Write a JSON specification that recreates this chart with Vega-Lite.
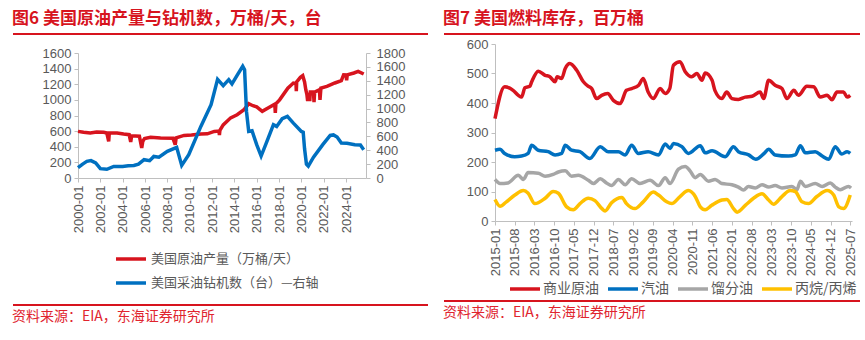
{
  "$schema": "https://vega.github.io/schema/vega-lite/v6.json",
  "padding": {"left": 10, "top": 10, "right": 5, "bottom": 0},
  "background": "white",
  "config": {
    "font": "Liberation Sans, Noto Sans CJK SC",
    "view": {"stroke": null},
    "axis": {"labelColor": "#595959", "labelFontSize": 13, "labelFont": "Liberation Sans", "domainColor": "#BFBFBF", "tickColor": "#BFBFBF", "tickSize": 4, "grid": false, "title": null, "labelPadding": 3, "format": "d"},
    "axisX": {"format": "%Y-%m"},
    "legend": {"title": null, "labelFont": "Noto Sans CJK SC", "labelFontSize": 13, "labelColor": "#595959", "labelLimit": 300, "symbolType": "stroke", "symbolSize": 900, "symbolStrokeWidth": 3.5, "labelOffset": 3}
  },
  "resolve": {"scale": {"color": "independent"}, "legend": {"color": "independent"}},
  "datasets": {
    "prod": [
      {"date": "2000-01-01", "value": 597}, {"date": "2000-07-01", "value": 585}, {"date": "2001-02-05", "value": 576}, {"date": "2001-09-01", "value": 588},
      {"date": "2002-04-20", "value": 585}, {"date": "2002-08-01", "value": 576}, {"date": "2002-10-01", "value": 468}, {"date": "2002-10-20", "value": 575},
      {"date": "2003-07-01", "value": 576}, {"date": "2004-02-01", "value": 562}, {"date": "2004-08-01", "value": 555}, {"date": "2004-09-20", "value": 461},
      {"date": "2004-10-20", "value": 540}, {"date": "2005-07-01", "value": 535}, {"date": "2005-09-15", "value": 384}, {"date": "2005-10-20", "value": 470},
      {"date": "2005-12-15", "value": 505}, {"date": "2006-07-01", "value": 520}, {"date": "2007-05-25", "value": 512}, {"date": "2008-07-01", "value": 510},
      {"date": "2008-09-15", "value": 426}, {"date": "2008-10-15", "value": 515}, {"date": "2009-07-01", "value": 545}, {"date": "2010-03-01", "value": 550},
      {"date": "2011-01-01", "value": 563}, {"date": "2011-08-01", "value": 565}, {"date": "2012-03-15", "value": 596}, {"date": "2012-08-15", "value": 600},
      {"date": "2012-08-30", "value": 550}, {"date": "2012-09-15", "value": 610}, {"date": "2013-01-01", "value": 680}, {"date": "2013-09-01", "value": 770},
      {"date": "2014-04-01", "value": 810}, {"date": "2014-11-01", "value": 870}, {"date": "2015-04-15", "value": 950}, {"date": "2015-09-01", "value": 925},
      {"date": "2016-01-01", "value": 910}, {"date": "2016-07-01", "value": 853}, {"date": "2017-01-20", "value": 900}, {"date": "2017-08-15", "value": 945},
      {"date": "2017-09-01", "value": 832}, {"date": "2017-09-20", "value": 950}, {"date": "2018-01-20", "value": 1000}, {"date": "2018-10-15", "value": 1150},
      {"date": "2019-04-15", "value": 1215}, {"date": "2019-07-10", "value": 1210}, {"date": "2019-07-20", "value": 1110}, {"date": "2019-08-01", "value": 1230},
      {"date": "2019-11-30", "value": 1288}, {"date": "2020-02-15", "value": 1310}, {"date": "2020-04-15", "value": 1230}, {"date": "2020-05-25", "value": 1130},
      {"date": "2020-07-01", "value": 1066}, {"date": "2020-07-25", "value": 985}, {"date": "2020-08-15", "value": 1090}, {"date": "2020-10-01", "value": 985},
      {"date": "2020-10-20", "value": 1100}, {"date": "2021-02-01", "value": 1100}, {"date": "2021-02-18", "value": 970}, {"date": "2021-03-10", "value": 1100},
      {"date": "2021-08-15", "value": 1130}, {"date": "2021-09-01", "value": 1000}, {"date": "2021-10-01", "value": 1150}, {"date": "2022-04-15", "value": 1173},
      {"date": "2023-01-01", "value": 1216}, {"date": "2023-08-01", "value": 1245}, {"date": "2023-10-15", "value": 1322}, {"date": "2024-01-01", "value": 1320},
      {"date": "2024-01-20", "value": 1250}, {"date": "2024-02-10", "value": 1320}, {"date": "2024-09-15", "value": 1344}, {"date": "2025-02-01", "value": 1365},
      {"date": "2025-08-01", "value": 1331}
    ],
    "rig": [
      {"date": "2000-01-01", "value": 150}, {"date": "2000-06-01", "value": 200}, {"date": "2000-10-15", "value": 239}, {"date": "2001-03-01", "value": 250},
      {"date": "2001-08-01", "value": 216}, {"date": "2002-01-01", "value": 134}, {"date": "2002-08-01", "value": 125}, {"date": "2003-03-15", "value": 167},
      {"date": "2004-01-01", "value": 165}, {"date": "2004-07-01", "value": 175}, {"date": "2005-01-01", "value": 181}, {"date": "2005-06-01", "value": 200},
      {"date": "2005-12-01", "value": 264}, {"date": "2006-06-01", "value": 250}, {"date": "2006-10-15", "value": 311}, {"date": "2007-04-01", "value": 300},
      {"date": "2008-01-01", "value": 383}, {"date": "2008-11-01", "value": 441}, {"date": "2009-04-15", "value": 181}, {"date": "2009-12-01", "value": 336},
      {"date": "2011-01-01", "value": 743}, {"date": "2011-12-01", "value": 1056}, {"date": "2012-07-01", "value": 1420}, {"date": "2013-01-01", "value": 1330},
      {"date": "2013-07-01", "value": 1416}, {"date": "2013-10-15", "value": 1354}, {"date": "2014-04-15", "value": 1488}, {"date": "2014-10-01", "value": 1609},
      {"date": "2014-12-01", "value": 1560}, {"date": "2015-02-01", "value": 959}, {"date": "2015-04-15", "value": 671}, {"date": "2015-08-01", "value": 681},
      {"date": "2016-01-01", "value": 480}, {"date": "2016-05-25", "value": 316}, {"date": "2016-12-01", "value": 527}, {"date": "2017-07-01", "value": 768},
      {"date": "2017-10-15", "value": 743}, {"date": "2018-04-15", "value": 854}, {"date": "2018-10-01", "value": 888}, {"date": "2019-04-15", "value": 790},
      {"date": "2020-01-01", "value": 670}, {"date": "2020-03-01", "value": 660}, {"date": "2020-04-15", "value": 420}, {"date": "2020-06-15", "value": 200},
      {"date": "2020-08-15", "value": 172}, {"date": "2021-02-01", "value": 300}, {"date": "2021-12-01", "value": 480}, {"date": "2022-08-01", "value": 613},
      {"date": "2022-11-15", "value": 620}, {"date": "2023-03-15", "value": 590}, {"date": "2023-08-01", "value": 504}, {"date": "2024-02-01", "value": 500},
      {"date": "2024-10-15", "value": 480}, {"date": "2025-04-15", "value": 475}, {"date": "2025-08-01", "value": 408}
    ],
    "stocks": [
      {"s": "商业原油", "date": "2015-01-01", "v": 347}, {"s": "商业原油", "date": "2015-04-15", "v": 455}, {"s": "商业原油", "date": "2015-07-15", "v": 443},
      {"s": "商业原油", "date": "2015-09-10", "v": 426}, {"s": "商业原油", "date": "2015-10-15", "v": 420}, {"s": "商业原油", "date": "2015-11-20", "v": 452},
      {"s": "商业原油", "date": "2016-01-12", "v": 457}, {"s": "商业原油", "date": "2016-02-01", "v": 472}, {"s": "商业原油", "date": "2016-04-12", "v": 508},
      {"s": "商业原油", "date": "2016-06-25", "v": 494}, {"s": "商业原油", "date": "2016-08-15", "v": 489}, {"s": "商业原油", "date": "2016-10-10", "v": 472},
      {"s": "商业原油", "date": "2016-11-01", "v": 489}, {"s": "商业原油", "date": "2016-12-20", "v": 483}, {"s": "商业原油", "date": "2017-01-28", "v": 517},
      {"s": "商业原油", "date": "2017-03-18", "v": 534}, {"s": "商业原油", "date": "2017-06-01", "v": 511}, {"s": "商业原油", "date": "2017-08-12", "v": 472},
      {"s": "商业原油", "date": "2017-10-01", "v": 457}, {"s": "商业原油", "date": "2017-11-10", "v": 449}, {"s": "商业原油", "date": "2018-01-01", "v": 415},
      {"s": "商业原油", "date": "2018-02-25", "v": 426}, {"s": "商业原油", "date": "2018-05-01", "v": 432}, {"s": "商业原油", "date": "2018-07-01", "v": 409},
      {"s": "商业原油", "date": "2018-09-12", "v": 398}, {"s": "商业原油", "date": "2018-11-20", "v": 443}, {"s": "商业原油", "date": "2019-01-15", "v": 449},
      {"s": "商业原油", "date": "2019-04-01", "v": 460}, {"s": "商业原油", "date": "2019-05-20", "v": 483}, {"s": "商业原油", "date": "2019-07-12", "v": 437},
      {"s": "商业原油", "date": "2019-09-06", "v": 415}, {"s": "商业原油", "date": "2019-11-18", "v": 449}, {"s": "商业原油", "date": "2020-01-12", "v": 432},
      {"s": "商业原油", "date": "2020-03-01", "v": 449}, {"s": "商业原油", "date": "2020-04-10", "v": 528}, {"s": "商业原油", "date": "2020-06-20", "v": 540},
      {"s": "商业原油", "date": "2020-08-15", "v": 506}, {"s": "商业原油", "date": "2020-10-25", "v": 489}, {"s": "商业原油", "date": "2020-12-18", "v": 500},
      {"s": "商业原油", "date": "2021-02-12", "v": 477}, {"s": "商业原油", "date": "2021-03-18", "v": 502}, {"s": "商业原油", "date": "2021-06-01", "v": 477},
      {"s": "商业原油", "date": "2021-07-01", "v": 443}, {"s": "商业原油", "date": "2021-09-15", "v": 415}, {"s": "商业原油", "date": "2021-11-06", "v": 437},
      {"s": "商业原油", "date": "2022-01-01", "v": 415}, {"s": "商业原油", "date": "2022-03-12", "v": 412}, {"s": "商业原油", "date": "2022-05-25", "v": 420},
      {"s": "商业原油", "date": "2022-08-06", "v": 423}, {"s": "商业原油", "date": "2022-11-01", "v": 437}, {"s": "商业原油", "date": "2022-12-10", "v": 415},
      {"s": "商业原油", "date": "2023-02-01", "v": 477}, {"s": "商业原油", "date": "2023-04-12", "v": 460}, {"s": "商业原油", "date": "2023-06-25", "v": 449},
      {"s": "商业原油", "date": "2023-08-18", "v": 415}, {"s": "商业原油", "date": "2023-11-01", "v": 443}, {"s": "商业原油", "date": "2023-12-20", "v": 426},
      {"s": "商业原油", "date": "2024-03-20", "v": 457}, {"s": "商业原油", "date": "2024-06-01", "v": 455}, {"s": "商业原油", "date": "2024-08-12", "v": 420},
      {"s": "商业原油", "date": "2024-10-25", "v": 426}, {"s": "商业原油", "date": "2024-12-15", "v": 411}, {"s": "商业原油", "date": "2025-02-08", "v": 437},
      {"s": "商业原油", "date": "2025-04-20", "v": 437}, {"s": "商业原油", "date": "2025-05-28", "v": 420}, {"s": "商业原油", "date": "2025-07-01", "v": 426},

      {"s": "汽油", "date": "2015-01-01", "v": 240}, {"s": "汽油", "date": "2015-02-25", "v": 243}, {"s": "汽油", "date": "2015-04-15", "v": 229},
      {"s": "汽油", "date": "2015-08-01", "v": 218}, {"s": "汽油", "date": "2015-10-15", "v": 220}, {"s": "汽油", "date": "2015-12-25", "v": 229},
      {"s": "汽油", "date": "2016-02-01", "v": 257}, {"s": "汽油", "date": "2016-04-12", "v": 240}, {"s": "汽油", "date": "2016-07-28", "v": 235},
      {"s": "汽油", "date": "2016-10-10", "v": 224}, {"s": "汽油", "date": "2016-12-20", "v": 229}, {"s": "汽油", "date": "2017-01-28", "v": 257},
      {"s": "汽油", "date": "2017-04-06", "v": 240}, {"s": "汽油", "date": "2017-07-06", "v": 235}, {"s": "汽油", "date": "2017-10-20", "v": 212},
      {"s": "汽油", "date": "2018-02-10", "v": 252}, {"s": "汽油", "date": "2018-05-06", "v": 235}, {"s": "汽油", "date": "2018-08-25", "v": 235},
      {"s": "汽油", "date": "2018-11-06", "v": 224}, {"s": "汽油", "date": "2019-01-15", "v": 257}, {"s": "汽油", "date": "2019-03-28", "v": 229},
      {"s": "汽油", "date": "2019-07-12", "v": 235}, {"s": "汽油", "date": "2019-11-01", "v": 224}, {"s": "汽油", "date": "2020-01-12", "v": 261},
      {"s": "汽油", "date": "2020-03-06", "v": 246}, {"s": "汽油", "date": "2020-04-10", "v": 263}, {"s": "汽油", "date": "2020-07-10", "v": 252},
      {"s": "汽油", "date": "2020-09-18", "v": 229}, {"s": "汽油", "date": "2021-01-25", "v": 255}, {"s": "汽油", "date": "2021-03-18", "v": 231},
      {"s": "汽油", "date": "2021-06-01", "v": 238}, {"s": "汽油", "date": "2021-10-22", "v": 218}, {"s": "汽油", "date": "2022-01-18", "v": 252},
      {"s": "汽油", "date": "2022-03-12", "v": 235}, {"s": "汽油", "date": "2022-07-01", "v": 224}, {"s": "汽油", "date": "2022-09-15", "v": 209},
      {"s": "汽油", "date": "2022-12-15", "v": 229}, {"s": "汽油", "date": "2023-02-01", "v": 243}, {"s": "汽油", "date": "2023-04-12", "v": 224},
      {"s": "汽油", "date": "2023-09-03", "v": 220}, {"s": "汽油", "date": "2023-11-15", "v": 224}, {"s": "汽油", "date": "2024-01-10", "v": 255},
      {"s": "汽油", "date": "2024-03-03", "v": 231}, {"s": "汽油", "date": "2024-06-18", "v": 235}, {"s": "汽油", "date": "2024-09-01", "v": 220},
      {"s": "汽油", "date": "2024-11-10", "v": 209}, {"s": "汽油", "date": "2025-01-20", "v": 252}, {"s": "汽油", "date": "2025-04-01", "v": 227},
      {"s": "汽油", "date": "2025-05-28", "v": 235}, {"s": "汽油", "date": "2025-07-01", "v": 229},

      {"s": "馏分油", "date": "2015-01-01", "v": 141}, {"s": "馏分油", "date": "2015-02-25", "v": 127}, {"s": "馏分油", "date": "2015-05-20", "v": 129},
      {"s": "馏分油", "date": "2015-09-10", "v": 155}, {"s": "馏分油", "date": "2015-11-03", "v": 141}, {"s": "馏分油", "date": "2015-12-25", "v": 164},
      {"s": "馏分油", "date": "2016-04-12", "v": 162}, {"s": "馏分油", "date": "2016-06-25", "v": 152}, {"s": "馏分油", "date": "2016-09-20", "v": 158},
      {"s": "馏分油", "date": "2016-11-15", "v": 166}, {"s": "馏分油", "date": "2017-01-28", "v": 170}, {"s": "馏分油", "date": "2017-04-06", "v": 152},
      {"s": "馏分油", "date": "2017-06-18", "v": 155}, {"s": "馏分油", "date": "2017-10-04", "v": 138}, {"s": "馏分油", "date": "2017-11-28", "v": 127},
      {"s": "馏分油", "date": "2018-02-10", "v": 143}, {"s": "馏分油", "date": "2018-04-18", "v": 129}, {"s": "馏分油", "date": "2018-06-12", "v": 120},
      {"s": "馏分油", "date": "2018-08-25", "v": 141}, {"s": "馏分油", "date": "2018-11-06", "v": 123}, {"s": "馏分油", "date": "2019-01-15", "v": 143},
      {"s": "馏分油", "date": "2019-04-15", "v": 127}, {"s": "馏分油", "date": "2019-08-01", "v": 138}, {"s": "馏分油", "date": "2019-11-01", "v": 120},
      {"s": "馏分油", "date": "2020-01-12", "v": 147}, {"s": "馏分油", "date": "2020-03-04", "v": 127}, {"s": "馏分油", "date": "2020-06-03", "v": 176},
      {"s": "馏分油", "date": "2020-08-15", "v": 185}, {"s": "馏分油", "date": "2020-10-06", "v": 170}, {"s": "馏分油", "date": "2020-12-01", "v": 147},
      {"s": "馏分油", "date": "2021-01-25", "v": 158}, {"s": "馏分油", "date": "2021-04-22", "v": 135}, {"s": "馏分油", "date": "2021-07-04", "v": 141},
      {"s": "馏分油", "date": "2021-09-15", "v": 127}, {"s": "馏分油", "date": "2022-01-01", "v": 123}, {"s": "馏分油", "date": "2022-03-12", "v": 115},
      {"s": "馏分油", "date": "2022-05-06", "v": 105}, {"s": "馏分油", "date": "2022-06-28", "v": 117}, {"s": "馏分油", "date": "2022-09-10", "v": 112},
      {"s": "馏分油", "date": "2022-11-22", "v": 123}, {"s": "馏分油", "date": "2023-02-01", "v": 115}, {"s": "馏分油", "date": "2023-04-12", "v": 120},
      {"s": "馏分油", "date": "2023-06-25", "v": 112}, {"s": "馏分油", "date": "2023-10-10", "v": 117}, {"s": "馏分油", "date": "2023-12-03", "v": 106},
      {"s": "馏分油", "date": "2024-01-10", "v": 135}, {"s": "馏分油", "date": "2024-03-03", "v": 117}, {"s": "馏分油", "date": "2024-06-18", "v": 127},
      {"s": "馏分油", "date": "2024-09-01", "v": 117}, {"s": "馏分油", "date": "2024-11-28", "v": 129}, {"s": "馏分油", "date": "2025-01-20", "v": 115},
      {"s": "馏分油", "date": "2025-03-15", "v": 106}, {"s": "馏分油", "date": "2025-06-12", "v": 117}, {"s": "馏分油", "date": "2025-07-10", "v": 112},

      {"s": "丙烷/丙烯", "date": "2015-01-01", "v": 73}, {"s": "丙烷/丙烯", "date": "2015-02-25", "v": 50}, {"s": "丙烷/丙烯", "date": "2015-05-04", "v": 65},
      {"s": "丙烷/丙烯", "date": "2015-08-04", "v": 88}, {"s": "丙烷/丙烯", "date": "2015-11-03", "v": 103}, {"s": "丙烷/丙烯", "date": "2015-12-25", "v": 94},
      {"s": "丙烷/丙烯", "date": "2016-03-06", "v": 59}, {"s": "丙烷/丙烯", "date": "2016-06-25", "v": 77}, {"s": "丙烷/丙烯", "date": "2016-09-20", "v": 100},
      {"s": "丙烷/丙烯", "date": "2016-11-15", "v": 94}, {"s": "丙烷/丙烯", "date": "2017-02-12", "v": 48}, {"s": "丙烷/丙烯", "date": "2017-04-25", "v": 38},
      {"s": "丙烷/丙烯", "date": "2017-07-06", "v": 59}, {"s": "丙烷/丙烯", "date": "2017-10-04", "v": 77}, {"s": "丙烷/丙烯", "date": "2017-12-15", "v": 69},
      {"s": "丙烷/丙烯", "date": "2018-02-28", "v": 42}, {"s": "丙烷/丙烯", "date": "2018-04-03", "v": 34}, {"s": "丙烷/丙烯", "date": "2018-06-12", "v": 62},
      {"s": "丙烷/丙烯", "date": "2018-10-01", "v": 80}, {"s": "丙烷/丙烯", "date": "2018-11-20", "v": 59}, {"s": "丙烷/丙烯", "date": "2019-02-20", "v": 42},
      {"s": "丙烷/丙烯", "date": "2019-05-20", "v": 65}, {"s": "丙烷/丙烯", "date": "2019-09-06", "v": 98}, {"s": "丙烷/丙烯", "date": "2019-11-01", "v": 88},
      {"s": "丙烷/丙烯", "date": "2020-01-28", "v": 65}, {"s": "丙烷/丙烯", "date": "2020-03-22", "v": 59}, {"s": "丙烷/丙烯", "date": "2020-06-20", "v": 83},
      {"s": "丙烷/丙烯", "date": "2020-09-18", "v": 103}, {"s": "丙烷/丙烯", "date": "2020-12-01", "v": 83}, {"s": "丙烷/丙烯", "date": "2021-01-25", "v": 48},
      {"s": "丙烷/丙烯", "date": "2021-03-18", "v": 38}, {"s": "丙烷/丙烯", "date": "2021-05-28", "v": 53}, {"s": "丙烷/丙烯", "date": "2021-09-15", "v": 71},
      {"s": "丙烷/丙烯", "date": "2021-11-06", "v": 73}, {"s": "丙烷/丙烯", "date": "2022-01-18", "v": 42}, {"s": "丙烷/丙烯", "date": "2022-02-25", "v": 30},
      {"s": "丙烷/丙烯", "date": "2022-05-25", "v": 53}, {"s": "丙烷/丙烯", "date": "2022-08-22", "v": 77}, {"s": "丙烷/丙烯", "date": "2022-11-22", "v": 92},
      {"s": "丙烷/丙烯", "date": "2023-02-01", "v": 71}, {"s": "丙烷/丙烯", "date": "2023-03-25", "v": 57}, {"s": "丙烷/丙烯", "date": "2023-06-25", "v": 83},
      {"s": "丙烷/丙烯", "date": "2023-09-22", "v": 103}, {"s": "丙烷/丙烯", "date": "2023-11-15", "v": 100}, {"s": "丙烷/丙烯", "date": "2024-01-28", "v": 65},
      {"s": "丙烷/丙烯", "date": "2024-04-06", "v": 59}, {"s": "丙烷/丙烯", "date": "2024-07-06", "v": 83}, {"s": "丙烷/丙烯", "date": "2024-10-25", "v": 103},
      {"s": "丙烷/丙烯", "date": "2025-01-03", "v": 88}, {"s": "丙烷/丙烯", "date": "2025-02-28", "v": 48}, {"s": "丙烷/丙烯", "date": "2025-04-20", "v": 42},
      {"s": "丙烷/丙烯", "date": "2025-07-01", "v": 88}
    ]
  },
  "spacing": 12,
  "hconcat": [
    {
      "spacing": 0,
      "vconcat": [
        {
          "data": {"values": [{}]},
          "width": 415, "height": 13,
          "title": {"text": "图6  美国原油产量与钻机数，万桶/天，台", "anchor": "start", "color": "#D7141E", "fontSize": 17, "fontWeight": "bold", "offset": 5, "font": "Noto Sans CJK SC"},
          "mark": {"type": "rule", "color": "#D7141E", "strokeWidth": 2},
          "encoding": {"y": {"datum": 1, "type": "quantitative", "scale": {"domain": [0, 1]}, "axis": null}}
        },
        {
          "spacing": 0,
          "hconcat": [
            {"data": {"values": [{}]}, "width": 1, "height": 1, "mark": {"type": "point", "opacity": 0}, "encoding": {}},
            {
              "width": 288, "height": 125,
              "encoding": {
                "x": {"field": "date", "type": "temporal", "scale": {"domain": [{"year": 2000, "month": 1, "date": 1}, {"year": 2025, "month": 10, "date": 15}]},
                      "axis": {"format": "%Y-%m", "labelAngle": -90, "labelOverlap": false, "values": [{"year": 2000, "month": 1, "date": 1}, {"year": 2002, "month": 1, "date": 1}, {"year": 2004, "month": 1, "date": 1}, {"year": 2006, "month": 1, "date": 1}, {"year": 2008, "month": 1, "date": 1}, {"year": 2010, "month": 1, "date": 1}, {"year": 2012, "month": 1, "date": 1}, {"year": 2014, "month": 1, "date": 1}, {"year": 2016, "month": 1, "date": 1}, {"year": 2018, "month": 1, "date": 1}, {"year": 2020, "month": 1, "date": 1}, {"year": 2022, "month": 1, "date": 1}, {"year": 2024, "month": 1, "date": 1}]}}
              },
              "layer": [
                {
                  "data": {"name": "prod"},
                  "mark": {"type": "line", "strokeWidth": 3.5},
                  "encoding": {
                    "y": {"field": "value", "type": "quantitative", "scale": {"domain": [0, 1600]}, "axis": {"orient": "left", "format": "d", "values": [0, 200, 400, 600, 800, 1000, 1200, 1400, 1600], "minExtent": 61}},
                    "color": {"datum": "美国原油产量（万桶/天）", "scale": {"domain": ["美国原油产量（万桶/天）", "美国采油钻机数（台）—右轴"], "range": ["#D7141E", "#0070C0"]},
                              "legend": {"orient": "none", "direction": "vertical", "legendX": 101, "legendY": 208, "rowPadding": -5}}
                  }
                },
                {
                  "data": {"name": "rig"},
                  "mark": {"type": "line", "strokeWidth": 3.5},
                  "encoding": {
                    "y": {"field": "value", "type": "quantitative", "scale": {"domain": [0, 1800]}, "axis": {"orient": "right", "format": "d", "values": [0, 200, 400, 600, 800, 1000, 1200, 1400, 1600, 1800], "labelPadding": 6}},
                    "color": {"datum": "美国采油钻机数（台）—右轴"}
                  }
                }
              ],
              "resolve": {"scale": {"y": "independent"}}
            }
          ]
        },
        {
          "data": {"values": [{}]},
          "width": 415, "height": 72,
          "title": {"text": "资料来源：EIA，东海证券研究所", "orient": "bottom", "anchor": "start", "color": "#E0242E", "fontSize": 14, "fontWeight": "normal", "offset": 4, "font": "Noto Sans CJK SC"},
          "mark": {"type": "rule", "color": "#D7141E", "strokeWidth": 2},
          "encoding": {"y": {"datum": 0, "type": "quantitative", "scale": {"domain": [0, 1]}, "axis": null}}
        }
      ]
    },
    {
      "spacing": 0,
      "vconcat": [
        {
          "data": {"values": [{}]},
          "width": 416, "height": 4,
          "title": {"text": "图7  美国燃料库存，百万桶", "anchor": "start", "color": "#D7141E", "fontSize": 17, "fontWeight": "bold", "offset": 5, "font": "Noto Sans CJK SC"},
          "mark": {"type": "rule", "color": "#D7141E", "strokeWidth": 2},
          "encoding": {"y": {"datum": 1, "type": "quantitative", "scale": {"domain": [0, 1]}, "axis": null}}
        },
        {
          "spacing": 0,
          "hconcat": [
            {"data": {"values": [{}]}, "width": 1, "height": 1, "mark": {"type": "point", "opacity": 0}, "encoding": {}},
            {
              "width": 357, "height": 177,
              "data": {"name": "stocks"},
              "mark": {"type": "line", "strokeWidth": 3.5, "interpolate": "monotone"},
              "encoding": {
                "x": {"field": "date", "type": "temporal", "scale": {"domain": [{"year": 2015, "month": 1, "date": 1}, {"year": 2025, "month": 7, "date": 20}]},
                      "axis": {"format": "%Y-%m", "labelAngle": -90, "labelOverlap": false, "values": [{"year": 2015, "month": 1, "date": 1}, {"year": 2015, "month": 8, "date": 1}, {"year": 2016, "month": 3, "date": 1}, {"year": 2016, "month": 10, "date": 1}, {"year": 2017, "month": 5, "date": 1}, {"year": 2017, "month": 12, "date": 1}, {"year": 2018, "month": 7, "date": 1}, {"year": 2019, "month": 2, "date": 1}, {"year": 2019, "month": 9, "date": 1}, {"year": 2020, "month": 4, "date": 1}, {"year": 2020, "month": 11, "date": 1}, {"year": 2021, "month": 6, "date": 1}, {"year": 2022, "month": 1, "date": 1}, {"year": 2022, "month": 8, "date": 1}, {"year": 2023, "month": 3, "date": 1}, {"year": 2023, "month": 10, "date": 1}, {"year": 2024, "month": 5, "date": 1}, {"year": 2024, "month": 12, "date": 1}, {"year": 2025, "month": 7, "date": 1}]}},
                "y": {"field": "v", "type": "quantitative", "scale": {"domain": [0, 600]}, "axis": {"format": "d", "values": [0, 100, 200, 300, 400, 500, 600], "minExtent": 47}},
                "color": {"field": "s", "type": "nominal", "sort": null,
                          "scale": {"domain": ["商业原油", "汽油", "馏分油", "丙烷/丙烯"], "range": ["#D7141E", "#0070C0", "#A6A6A6", "#FFC000"]},
                          "legend": {"orient": "none", "direction": "horizontal", "columns": 4, "legendX": 64, "legendY": 238, "columnPadding": 2, "labelOffset": 1, "labelFontSize": 14}}
              }
            }
          ]
        },
        {
          "data": {"values": [{}]},
          "width": 416, "height": 25,
          "title": {"text": "资料来源：EIA，东海证券研究所", "orient": "bottom", "anchor": "start", "color": "#E0242E", "fontSize": 14, "fontWeight": "normal", "offset": 4, "font": "Noto Sans CJK SC"},
          "mark": {"type": "rule", "color": "#D7141E", "strokeWidth": 2},
          "encoding": {"y": {"datum": 0, "type": "quantitative", "scale": {"domain": [0, 1]}, "axis": null}}
        }
      ]
    }
  ]
}
